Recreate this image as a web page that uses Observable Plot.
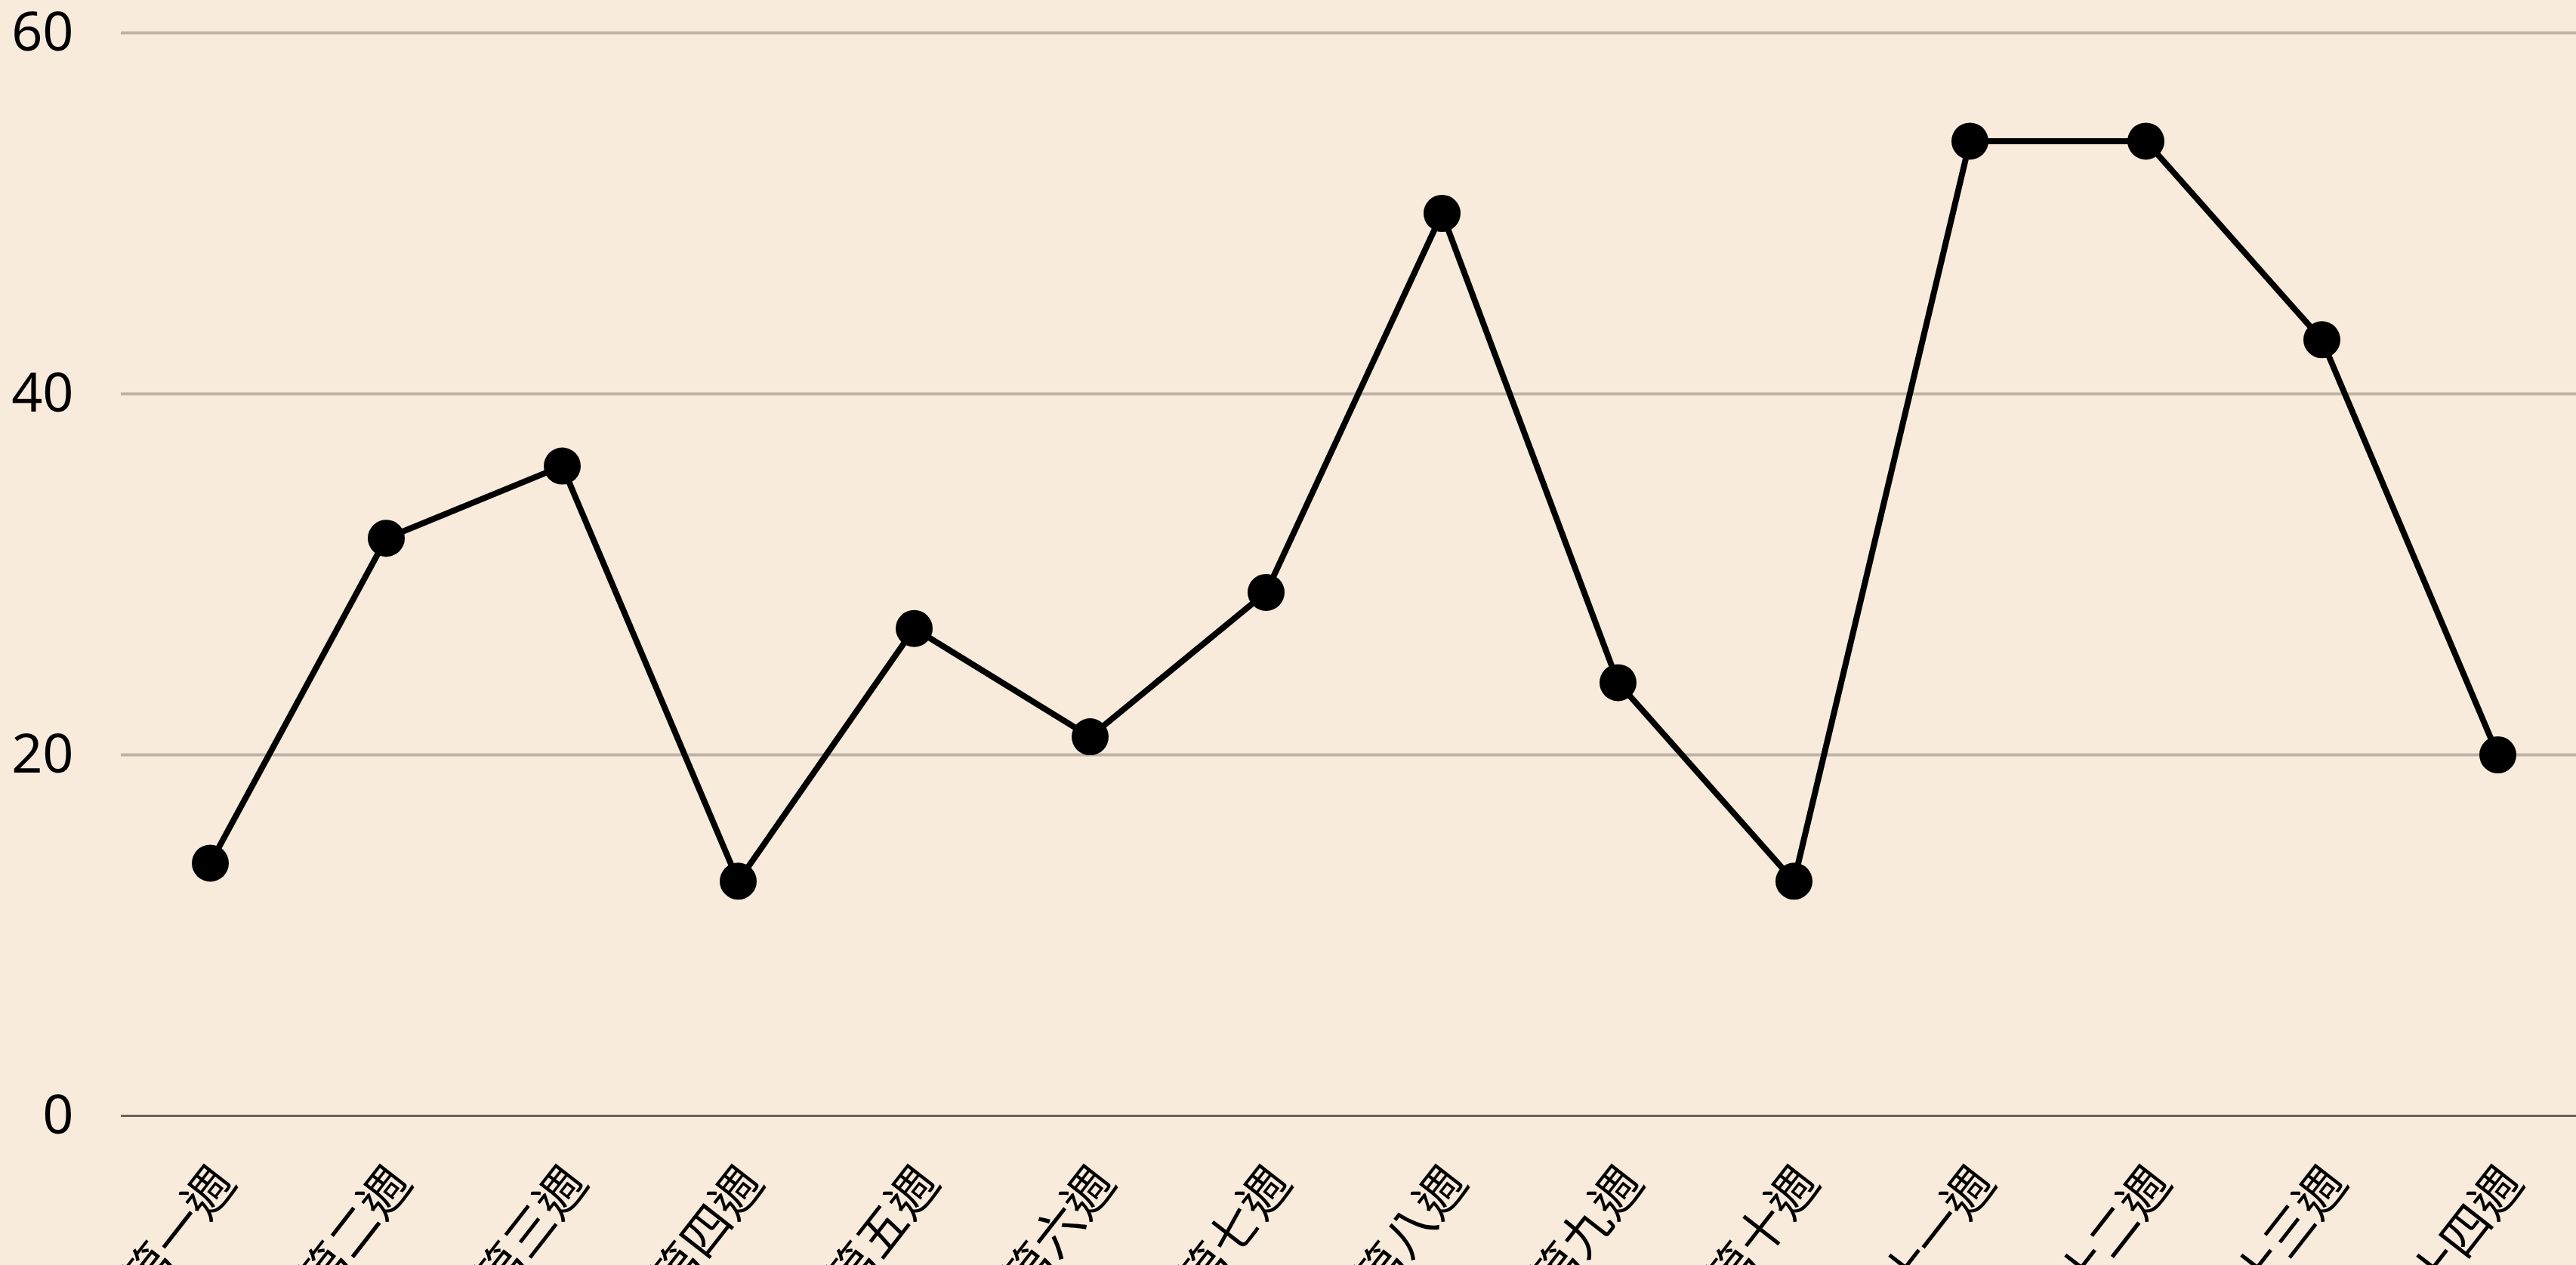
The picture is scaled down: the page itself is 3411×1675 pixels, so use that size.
<!DOCTYPE html>
<html><head><meta charset="utf-8">
<script src="https://cdn.jsdelivr.net/npm/d3@7"></script>
<script src="https://cdn.jsdelivr.net/npm/@observablehq/plot@0.6"></script>
<style>
html,body{margin:0;padding:0;background:#f9ebdc;overflow:hidden;}
</style></head><body><div id="chart"></div>
<script>
const weeks = ["第一週","第二週","第三週","第四週","第五週","第六週","第七週","第八週","第九週","第十週","第十一週","第十二週","第十三週","第十四週"];
const values = [14,32,36,13,27,21,29,50,24,13,54,54,43,20];
const yTicks = [0,20,40,60];
const gridTicks = [20,40,60];
const data = weeks.map((w,i)=>({week:w, value: values[i]}));
const chart = Plot.plot({
  width: 3411, height: 1675,
  marginLeft: 160, marginRight: 0, marginTop: 43, marginBottom: 198,
  style: {background: "#f9ebdc", fontFamily: "'Noto Sans', 'Noto Sans CJK TC', sans-serif", color: "#000", overflow: "hidden"},
  x: {type: "point", domain: weeks, range: [160, 3425], padding: 0.5, label: null},
  y: {domain: [0,60], label: null},
  marks: [
    Plot.gridY(gridTicks, {stroke: "#bdb3a6", strokeOpacity: 1, strokeWidth: 4}),
    Plot.ruleY([0], {stroke: "#68625c", strokeWidth: 3}),
    Plot.axisY({ticks: yTicks, tickSize: 0, tickPadding: 63, fontSize: 72, label: null, fill: "#000"}),
    Plot.axisX({tickSize: 0, tickRotate: -52, fontSize: 65, fontFamily: "'Noto Sans CJK TC', sans-serif", tickPadding: 77, dx: 20, label: null, fill: "#000"}),
    Plot.line(data, {x: "week", y: "value", stroke: "#000", strokeWidth: 8}),
    Plot.dot(data, {x: "week", y: "value", r: 24.5, fill: "#000", stroke: "none"})
  ]
});
document.getElementById("chart").appendChild(chart);
</script></body></html>
